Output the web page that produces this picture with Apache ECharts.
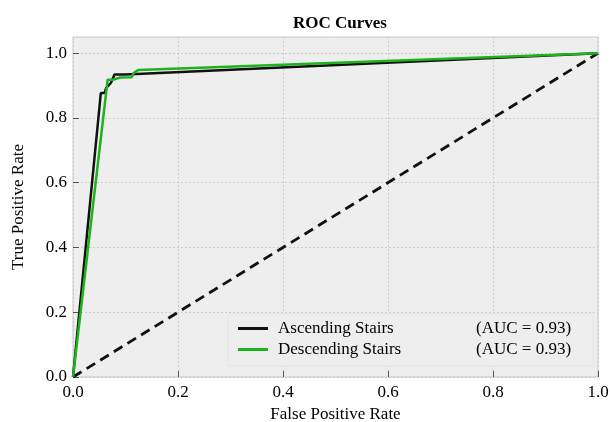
<!DOCTYPE html>
<html>
<head>
<meta charset="utf-8">
<script src="https://cdn.jsdelivr.net/npm/echarts@6/dist/echarts.min.js"></script>
<style>
  html, body { margin: 0; padding: 0; background: #ffffff; }
  #chart { width: 610px; height: 422px; }
</style>
</head>
<body>
<div id="chart"></div>
<script>
// ROC curve points [false positive rate, true positive rate]
const seriesNames = ['Ascending Stairs', 'Descending Stairs'];
const aucValues = [0.93, 0.93];
const ascendingRoc = [
  [0, 0], [0.053, 0.877], [0.060, 0.877], [0.063, 0.892], [0.072, 0.908],
  [0.075, 0.918], [0.079, 0.934], [0.10, 0.934], [1, 1]
];
const descendingRoc = [
  [0, 0], [0.066, 0.918], [0.076, 0.918], [0.077, 0.923], [0.090, 0.925],
  [0.112, 0.926], [0.115, 0.938], [0.124, 0.948], [1, 1]
];
const chanceLine = [[0, 0], [1, 1]];
const tickValues = [0, 0.2, 0.4, 0.6, 0.8, 1.0];

const FONT = '"Liberation Serif", "Times New Roman", serif';
const colors = ['#111111', '#1db31d'];

const chart = echarts.init(document.getElementById('chart'), null, { renderer: 'canvas' });

const option = {
  backgroundColor: '#ffffff',
  animation: false,
  title: {
    text: 'ROC Curves',
    left: 335,
    textAlign: 'center',
    top: 10,
    textStyle: { fontFamily: FONT, fontSize: 17, fontWeight: 'bold', color: '#000' }
  },
  grid: {
    left: 73, right: 12, top: 37, bottom: 45,
    outerBoundsMode: 'none',
    containLabel: false,
    show: true,
    backgroundColor: '#eeeeee',
    borderColor: '#c8c8c8',
    borderWidth: 1
  },
  legend: {
    orient: 'vertical',
    left: 228,
    top: 314,
    padding: [6, 22, 8, 10],
    itemGap: 4,
    itemWidth: 30,
    itemHeight: 3,
    icon: 'rect',
    backgroundColor: '#eeeeee',
    borderColor: '#e4e4e4',
    borderWidth: 1,
    data: seriesNames,
    formatter: function (name) {
      const i = seriesNames.indexOf(name);
      return '{n|' + name + '}{a|(AUC = ' + aucValues[i].toFixed(2) + ')}';
    },
    textStyle: {
      fontFamily: FONT, fontSize: 17, color: '#000',
      rich: {
        n: { fontFamily: FONT, fontSize: 17, color: '#000', width: 198, padding: [0, 0, 0, 5] },
        a: { fontFamily: FONT, fontSize: 17, color: '#000' }
      }
    }
  },
  xAxis: {
    type: 'value',
    min: 0, max: 1, interval: 0.2,
    name: 'False Positive Rate',
    nameLocation: 'middle',
    nameGap: 27,
    nameTextStyle: { fontFamily: FONT, fontSize: 17, color: '#000' },
    axisLine: { show: false },
    axisTick: { show: true, inside: true, length: 6, lineStyle: { color: '#555', width: 1 } },
    axisLabel: {
      margin: 7, fontFamily: FONT, fontSize: 17, color: '#000',
      formatter: v => v.toFixed(1)
    },
    splitLine: { show: true, lineStyle: { color: '#cdcdcd', type: [2, 2], width: 1 } }
  },
  yAxis: {
    type: 'value',
    min: 0, max: 1.05, interval: 0.2,
    name: 'True Positive Rate',
    nameLocation: 'middle',
    nameGap: 46,
    nameTextStyle: { fontFamily: FONT, fontSize: 17, color: '#000' },
    axisLine: { show: false },
    axisTick: {
      show: true, inside: true, length: 6, customValues: tickValues,
      lineStyle: { color: '#555', width: 1 }
    },
    axisLabel: {
      margin: 6, fontFamily: FONT, fontSize: 17, color: '#000',
      customValues: tickValues,
      formatter: v => v.toFixed(1)
    },
    splitLine: { show: true, lineStyle: { color: '#cdcdcd', type: [2, 2], width: 1 } }
  },
  series: [
    {
      name: 'Chance',
      type: 'line',
      data: chanceLine,
      symbol: 'none',
      lineStyle: { color: '#111111', width: 2.8, type: [10, 6] },
      z: 2
    },
    {
      name: seriesNames[0],
      type: 'line',
      data: ascendingRoc,
      symbol: 'none',
      color: colors[0],
      lineStyle: { color: colors[0], width: 2.5 },
      z: 3
    },
    {
      name: seriesNames[1],
      type: 'line',
      data: descendingRoc,
      symbol: 'none',
      color: colors[1],
      lineStyle: { color: colors[1], width: 2.5 },
      z: 4
    }
  ]
};

chart.setOption(option);
</script>
</body>
</html>
